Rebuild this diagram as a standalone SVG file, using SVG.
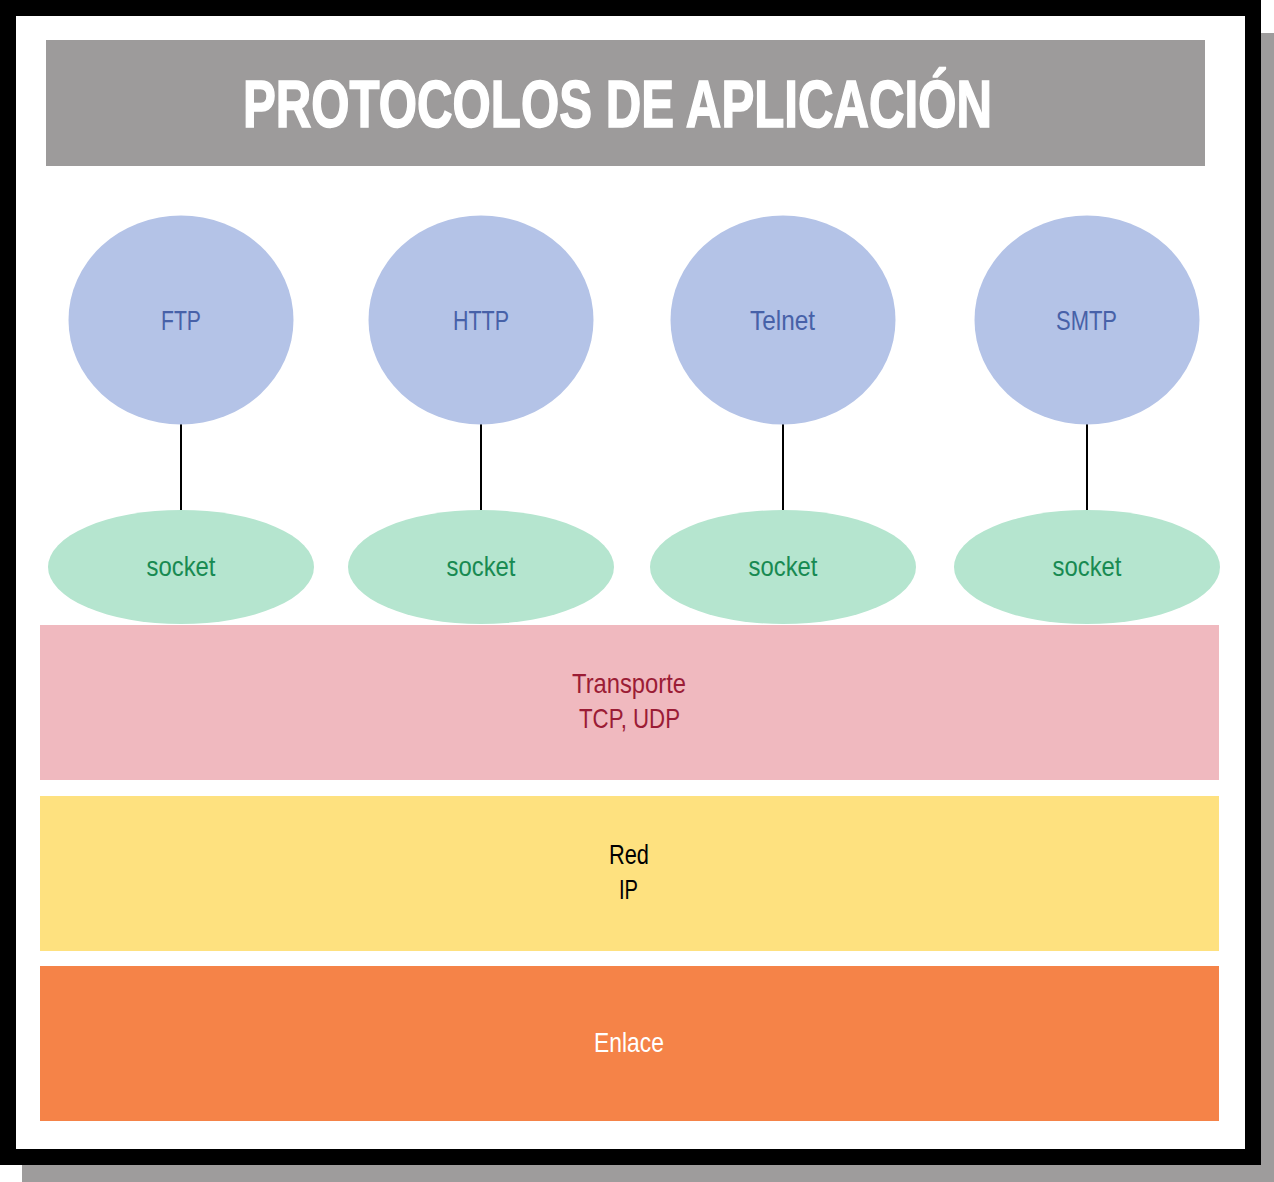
<svg xmlns="http://www.w3.org/2000/svg" width="1274" height="1182" viewBox="0 0 1274 1182">
<style>
.t{font-family:"Liberation Sans",Arial,sans-serif;font-size:28px;text-anchor:middle}
.proto{fill:#b4c3e7}
.pt{fill:#4761a8}
.sock{fill:#b5e5cf}
.st{fill:#188a52}
</style>
<rect x="22" y="33" width="1252" height="1149" fill="#9e9c9c"/>
<rect x="0" y="0" width="1261" height="1165" fill="#000"/>
<rect x="16" y="16" width="1229" height="1133" fill="#fff"/>
<g id="title">
<rect x="46" y="40" width="1159" height="126" fill="#9d9b9b"/>
<text x="617.5" y="127" font-family="'Liberation Sans',Arial,sans-serif" font-weight="bold" font-size="66" fill="#fff" stroke="#fff" stroke-width="1.6" text-anchor="middle" textLength="749" lengthAdjust="spacingAndGlyphs">PROTOCOLOS DE APLICACIÓN</text>
</g>
<g id="connectors" stroke="#000" stroke-width="2">
<line x1="181" y1="424" x2="181" y2="511"/>
<line x1="481" y1="424" x2="481" y2="511"/>
<line x1="783" y1="424" x2="783" y2="511"/>
<line x1="1087" y1="424" x2="1087" y2="511"/>
</g>
<g id="ftp"><ellipse class="proto" cx="181" cy="320" rx="112.5" ry="104.5"/><text class="t pt" x="181" y="330" textLength="40" lengthAdjust="spacingAndGlyphs">FTP</text></g>
<g id="http"><ellipse class="proto" cx="481" cy="320" rx="112.5" ry="104.5"/><text class="t pt" x="481" y="330" textLength="56" lengthAdjust="spacingAndGlyphs">HTTP</text></g>
<g id="telnet"><ellipse class="proto" cx="783" cy="320" rx="112.5" ry="104.5"/><text class="t pt" x="782.5" y="330" textLength="65" lengthAdjust="spacingAndGlyphs">Telnet</text></g>
<g id="smtp"><ellipse class="proto" cx="1087" cy="320" rx="112.5" ry="104.5"/><text class="t pt" x="1086.5" y="330" textLength="61" lengthAdjust="spacingAndGlyphs">SMTP</text></g>
<g id="socket1"><ellipse class="sock" cx="181" cy="567" rx="133" ry="57"/><text class="t st" x="181" y="576" textLength="69" lengthAdjust="spacingAndGlyphs">socket</text></g>
<g id="socket2"><ellipse class="sock" cx="481" cy="567" rx="133" ry="57"/><text class="t st" x="481" y="576" textLength="69" lengthAdjust="spacingAndGlyphs">socket</text></g>
<g id="socket3"><ellipse class="sock" cx="783" cy="567" rx="133" ry="57"/><text class="t st" x="783" y="576" textLength="69" lengthAdjust="spacingAndGlyphs">socket</text></g>
<g id="socket4"><ellipse class="sock" cx="1087" cy="567" rx="133" ry="57"/><text class="t st" x="1087" y="576" textLength="69" lengthAdjust="spacingAndGlyphs">socket</text></g>
<g id="transporte">
<rect x="40" y="625" width="1179" height="155" fill="#f0b9bf"/>
<text class="t" fill="#9b1c35" x="629" y="693" textLength="114" lengthAdjust="spacingAndGlyphs">Transporte</text>
<text class="t" fill="#9b1c35" x="629.5" y="728" textLength="101" lengthAdjust="spacingAndGlyphs">TCP, UDP</text>
</g>
<g id="red">
<rect x="40" y="796" width="1179" height="155" fill="#fee17f"/>
<text class="t" fill="#000" x="629" y="864" textLength="40" lengthAdjust="spacingAndGlyphs">Red</text>
<text class="t" fill="#000" x="628.5" y="899" textLength="19" lengthAdjust="spacingAndGlyphs">IP</text>
</g>
<g id="enlace">
<rect x="40" y="966" width="1179" height="155" fill="#f58348"/>
<text class="t" fill="#fff" x="629" y="1052" textLength="70" lengthAdjust="spacingAndGlyphs">Enlace</text>
</g>
</svg>
